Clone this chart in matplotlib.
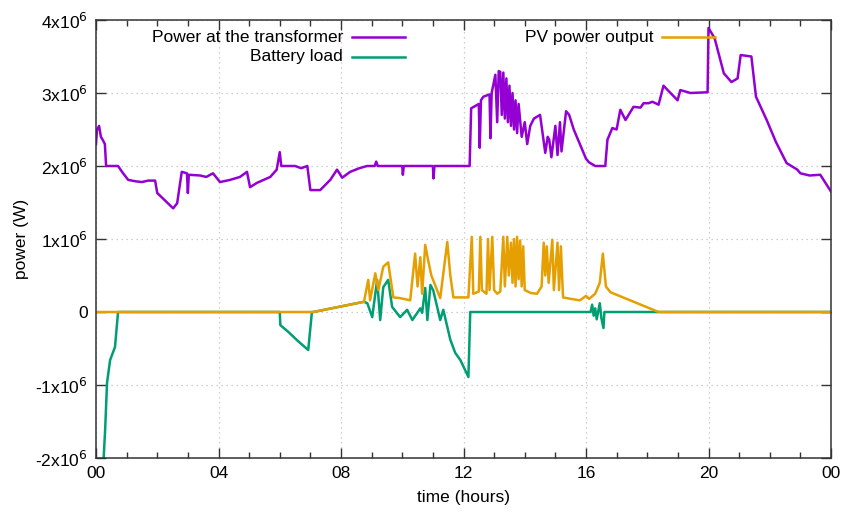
import numpy as np
import matplotlib.pyplot as plt
from matplotlib.ticker import MultipleLocator, FuncFormatter

# values, power in units of 1e6 W, time in hours
trafo_h = [0.0, 0.03, 0.1, 0.16, 0.23, 0.29, 0.33, 0.72, 0.85, 1.05, 1.3, 1.5, 1.7, 1.93,
           2.0, 2.25, 2.52, 2.65, 2.8, 2.97, 3.0, 3.03, 3.4, 3.6, 3.82, 4.05, 4.38, 4.7,
           4.93, 5.03, 5.26, 5.69, 5.9, 6.0, 6.05, 6.5, 6.7, 6.9, 7.0, 7.32, 7.65, 7.87,
           8.04, 8.3, 8.6, 8.85, 9.1, 9.15, 9.2, 9.6, 10.0, 10.02, 10.05,
           10.5, 11.0, 11.02, 11.05, 11.5, 12.2, 12.25, 12.5, 12.53, 12.57, 12.65, 12.85,
           12.88, 12.92, 13.04, 13.1, 13.15, 13.2, 13.25, 13.3, 13.35, 13.4, 13.45, 13.5,
           13.55, 13.6, 13.65, 13.7, 13.75, 13.8, 13.9, 14.0, 14.08, 14.18, 14.3, 14.5,
           14.67, 14.75, 14.8, 14.87, 15.0, 15.07, 15.15, 15.2, 15.35, 15.45, 15.6, 15.8,
           16.0, 16.1, 16.3, 16.63, 16.7, 16.86, 17.0, 17.12, 17.29, 17.55, 17.78, 17.88,
           18.04, 18.17, 18.37, 18.53, 18.76, 18.99, 19.08, 19.41, 19.97, 20.0, 20.2, 20.5,
           20.75, 20.95, 21.05, 21.4, 21.55, 21.9, 22.2, 22.55, 22.9, 23.0, 23.3, 23.65,
           23.85, 24.0]
trafo_p = [2.3, 2.49, 2.55, 2.4, 2.35, 2.3, 2.0, 2.0, 1.92, 1.81, 1.79, 1.78, 1.8, 1.8,
           1.63, 1.53, 1.42, 1.49, 1.92, 1.9, 1.63, 1.88, 1.87, 1.85, 1.9, 1.78, 1.81, 1.85,
           1.92, 1.71, 1.77, 1.85, 1.95, 2.19, 2.0, 2.0, 1.97, 2.0, 1.67, 1.67, 1.81, 1.95,
           1.84, 1.92, 1.97, 2.0, 2.0, 2.06, 2.0, 2.0, 2.0, 1.88, 2.0,
           2.0, 2.0, 1.83, 2.0, 2.0, 2.0, 2.79, 2.85, 2.25, 2.9, 2.95, 2.98,
           2.38, 3.0, 3.25, 2.6, 3.3, 3.29, 2.7, 3.28, 2.65, 3.2, 2.6, 3.1,
           2.55, 3.0, 2.5, 2.9, 2.45, 2.85, 2.4, 2.6, 2.3, 2.55, 2.65, 2.7,
           2.18, 2.4, 2.36, 2.12, 2.55, 2.15, 2.6, 2.2, 2.75, 2.7, 2.5, 2.3,
           2.1, 2.05, 2.0, 2.0, 2.36, 2.52, 2.5, 2.77, 2.63, 2.81, 2.8, 2.86,
           2.86, 2.88, 2.84, 3.1, 3.0, 2.9, 3.04, 3.0, 3.01, 3.89, 3.75, 3.27,
           3.15, 3.2, 3.52, 3.5, 2.95, 2.63, 2.33, 2.04, 1.95, 1.9, 1.87, 1.88,
           1.75, 1.65]

battery_h = [0.2, 0.3, 0.36, 0.46, 0.62, 0.72, 6.0, 6.02, 6.3, 6.6, 6.93, 7.05, 7.1, 8.75,
             8.86, 9.02, 9.18, 9.28, 9.38, 9.54, 9.67, 9.93, 10.16, 10.33, 10.59, 10.65,
             10.75, 10.82, 10.92, 11.01, 11.24, 11.34, 11.57, 11.73, 11.9, 12.16, 12.22,
             16.15, 16.2, 16.25, 16.3, 16.35, 16.45, 16.5, 16.57, 16.6, 24.0]
battery_p = [-2.4, -1.6, -0.97, -0.66, -0.48, 0.0, 0.0, -0.18, -0.28, -0.4, -0.52, 0.0, 0.0, 0.14,
             0.12, -0.07, 0.44, -0.11, 0.34, 0.44, 0.07, -0.07, 0.03, -0.11, 0.05, -0.01,
             0.33, -0.11, 0.37, 0.3, -0.11, 0.03, -0.38, -0.56, -0.66, -0.89, 0.0,
             0.0, 0.1, -0.05, 0.05, -0.1, 0.12, -0.08, -0.22, 0.0, 0.0]

pv_h = [0.0, 7.1, 8.75, 8.89, 8.95, 9.12, 9.22, 9.38, 9.54, 9.71, 9.93, 10.26, 10.42, 10.5,
        10.59, 10.65, 10.75, 10.85, 10.95, 11.24, 11.47, 11.57, 11.67, 11.9, 12.16, 12.27,
        12.32, 12.5, 12.55, 12.6, 12.75, 12.8, 12.85, 12.94, 13.0, 13.1, 13.2, 13.3, 13.35,
        13.43, 13.48, 13.55, 13.6, 13.65, 13.7, 13.75, 13.8, 13.85, 13.9, 13.95, 14.0, 14.2,
        14.4, 14.55, 14.62, 14.67, 14.72, 14.78, 14.9, 14.95, 15.07, 15.12, 15.18, 15.25,
        15.5, 15.8, 16.0, 16.1, 16.3, 16.45, 16.55, 16.65, 16.8, 17.5, 18.37, 24.0]
pv_p = [0.0, 0.0, 0.14, 0.44, 0.16, 0.53, 0.3, 0.62, 0.68, 0.2, 0.19, 0.16, 0.8, 0.35,
        0.75, 0.25, 0.92, 0.7, 0.5, 0.19, 0.96, 0.5, 0.2, 0.2, 0.2, 1.03,
        0.25, 0.28, 1.03, 0.3, 0.25, 1.0, 0.3, 1.03, 0.3, 0.25, 0.28, 1.03, 0.35,
        1.03, 0.5, 0.95, 0.4, 1.0, 0.35, 1.03, 0.45, 0.98, 0.35, 0.9, 0.3, 0.26,
        0.25, 0.35, 0.95, 0.5, 0.9, 0.4, 0.99, 0.3, 0.95, 0.3, 0.9, 0.2,
        0.18, 0.16, 0.22, 0.18, 0.25, 0.4, 0.8, 0.35, 0.27, 0.15, 0.0, 0.0]

xtick_labels = ['00', '04', '08', '12', '16', '20', '00']

plt.rcParams['font.family'] = 'Liberation Sans'
plt.rcParams['font.size'] = 12.5

fig = plt.figure(figsize=(8.41, 5.14), dpi=100)
ax = fig.add_axes([96 / 841, 56 / 514, 735 / 841, 438 / 514])

lw = 1.8
ax.plot(trafo_h, np.array(trafo_p) * 1e6, color='#9400d3', lw=lw)
ax.plot(battery_h, np.array(battery_p) * 1e6, color='#009e73', lw=lw)
ax.plot(pv_h, np.array(pv_p) * 1e6, color='#e69f00', lw=lw)

ax.set_xlim(0, 24)
ax.set_ylim(-2e6, 4e6)
ax.set_xticks(range(0, 25, 4))
ax.set_xticklabels(xtick_labels)
ax.xaxis.set_minor_locator(MultipleLocator(1))
ax.yaxis.set_major_locator(MultipleLocator(1e6))


def yfmt(v, pos):
    n = int(round(v / 1e6))
    if n == 0:
        return '0'
    return '%dx10$^{6}$' % n


ax.yaxis.set_major_formatter(FuncFormatter(yfmt))
ax.tick_params(which='both', direction='in', top=True, right=True, color='#333333')
ax.tick_params(which='major', length=7, width=1, pad=6)
ax.tick_params(which='minor', length=4, width=1)
ax.tick_params(axis='y', which='minor', left=False, right=False)
ax.grid(True, which='major', color='#c0c0c0', linestyle=(0, (1, 3)), lw=0.9)
for s in ax.spines.values():
    s.set_color('#333333')
    s.set_linewidth(1.1)

ax.set_xlabel('time (hours)', labelpad=6)
ax.set_ylabel('power (W)', labelpad=4)

# gnuplot-like key: text right-aligned, sample line after it
key = [('Power at the transformer', '#9400d3', 0.336, 0.961),
       ('Battery load', '#009e73', 0.336, 0.916),
       ('PV power output', '#e69f00', 0.758, 0.961)]
for label, c, xr, yk in key:
    ax.text(xr, yk, label, transform=ax.transAxes, ha='right', va='center')
    ax.plot([xr + 0.012, xr + 0.084], [yk, yk], transform=ax.transAxes, color=c, lw=lw)

fig.savefig('out.png', dpi=100)
